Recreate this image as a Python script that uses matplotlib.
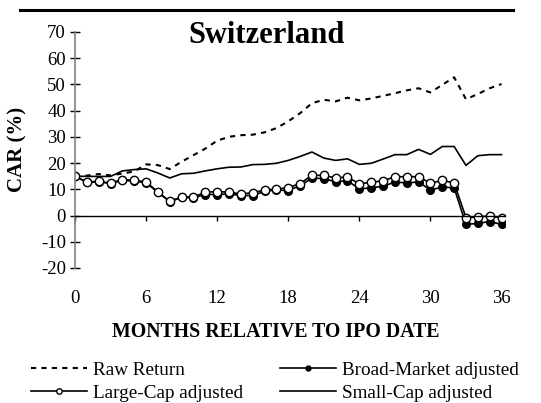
import numpy as np
import matplotlib
matplotlib.use("Agg")
import matplotlib.pyplot as plt
from matplotlib.lines import Line2D

plt.rcParams['font.family'] = ['Liberation Serif', 'DejaVu Serif']
plt.rcParams['axes.unicode_minus'] = False

months = np.arange(0, 37)

raw_return = [15.0, 15.2, 15.8, 15.3, 16.0, 16.8, 19.5, 19.2, 17.7, 20.5,
              23.0, 25.5, 28.5, 30.0, 30.6, 30.8, 31.7, 33.3, 35.9, 39.0,
              42.8, 44.1, 43.5, 44.9, 43.9, 44.6, 45.6, 46.6, 47.7, 48.5,
              46.9, 49.8, 52.7, 44.3, 46.3, 48.5, 50.1]

broad_market = [15.0, 12.6, 12.8, 12.2, 13.4, 13.1, 12.5, 8.8, 5.3, 6.9,
                6.8, 8.0, 8.0, 8.2, 7.6, 7.6, 9.2, 9.7, 9.5, 11.4,
                14.2, 14.1, 12.8, 13.3, 10.1, 10.6, 11.1, 12.8, 12.4, 12.8,
                9.7, 10.9, 10.5, -3.4, -3.0, -2.3, -3.4]

large_cap = [15.0, 12.8, 13.0, 12.4, 13.7, 13.4, 12.8, 9.0, 5.4, 7.1,
             7.0, 8.9, 9.1, 8.9, 8.2, 8.7, 9.7, 10.1, 10.6, 12.2,
             15.3, 15.3, 14.3, 14.7, 12.0, 12.7, 13.2, 14.8, 14.8, 14.8,
             12.3, 13.4, 12.4, -0.8, -0.6, -0.1, -1.0]

small_cap = [15.0, 14.9, 14.9, 14.9, 17.0, 17.5, 17.8, 16.2, 14.3, 15.9,
             16.1, 17.0, 17.8, 18.4, 18.5, 19.4, 19.5, 19.9, 21.0, 22.5,
             24.2, 21.9, 21.0, 21.6, 19.5, 19.9, 21.5, 23.2, 23.2, 25.2,
             23.3, 26.3, 26.3, 19.1, 22.8, 23.2, 23.2]

xticks = [0, 6, 12, 18, 24, 30, 36]
yticks = [-20, -10, 0, 10, 20, 30, 40, 50, 60, 70]

fig = plt.figure(figsize=(5.41, 4.03), dpi=100)
ax = fig.add_axes([0.1386, 0.335, 0.795, 0.586])

h_raw, = ax.plot(months, raw_return, color='black', lw=1.5, ls=(0, (2.5, 2.5)),
                 label='Raw Return')
h_small, = ax.plot(months, small_cap, color='black', lw=1.2,
                   label='Small-Cap adjusted')
h_broad, = ax.plot(months, broad_market, color='black', lw=1.2, marker='o',
                   ms=5.5, mfc='black', mec='black', label='Broad-Market adjusted')
h_large, = ax.plot(months, large_cap, color='black', lw=1.2, marker='o',
                   ms=6, mfc='white', mec='black', mew=1.0,
                   label='Large-Cap adjusted')

ax.set_xlim(0, 36.3)
ax.set_ylim(-20, 70)
ax.set_xticks(xticks)
ax.set_yticks(yticks)

ax.spines['top'].set_visible(False)
ax.spines['right'].set_visible(False)
ax.spines['bottom'].set_position(('data', 0))
ax.spines['left'].set_color('#808080')
ax.spines['left'].set_linewidth(1.2)
ax.spines['bottom'].set_linewidth(1.0)

ax.tick_params(axis='y', direction='inout', length=7, width=1.0, pad=3,
               labelsize=13.5, colors='black')
ax.tick_params(axis='x', direction='out', length=3.5, width=1.0, pad=50,
               labelsize=13.5)

fig.text(0.492, 0.893, 'Switzerland', ha='center', va='baseline',
         fontsize=22, fontweight='bold')
ax.set_ylabel('CAR (%)', fontsize=15, fontweight='bold')
ax.yaxis.set_label_coords(-0.11, 0.50)
fig.text(0.51, 0.177, 'MONTHS RELATIVE TO IPO DATE', ha='center', va='center',
         fontsize=14.3, fontweight='bold')

fig.legend(handles=[h_raw, h_large, h_broad, h_small], ncol=2,
           loc='upper left', bbox_to_anchor=(0.058, 0.103), frameon=False,
           fontsize=13.8, handlelength=2.9, handletextpad=0.3,
           columnspacing=1.95, labelspacing=0.3, borderaxespad=0,
           borderpad=0, markerscale=0.65)

fig.add_artist(Line2D([0.037, 0.948], [0.975, 0.975], color='black', lw=2.2,
                      transform=fig.transFigure))

fig.savefig('out.png', dpi=100)
